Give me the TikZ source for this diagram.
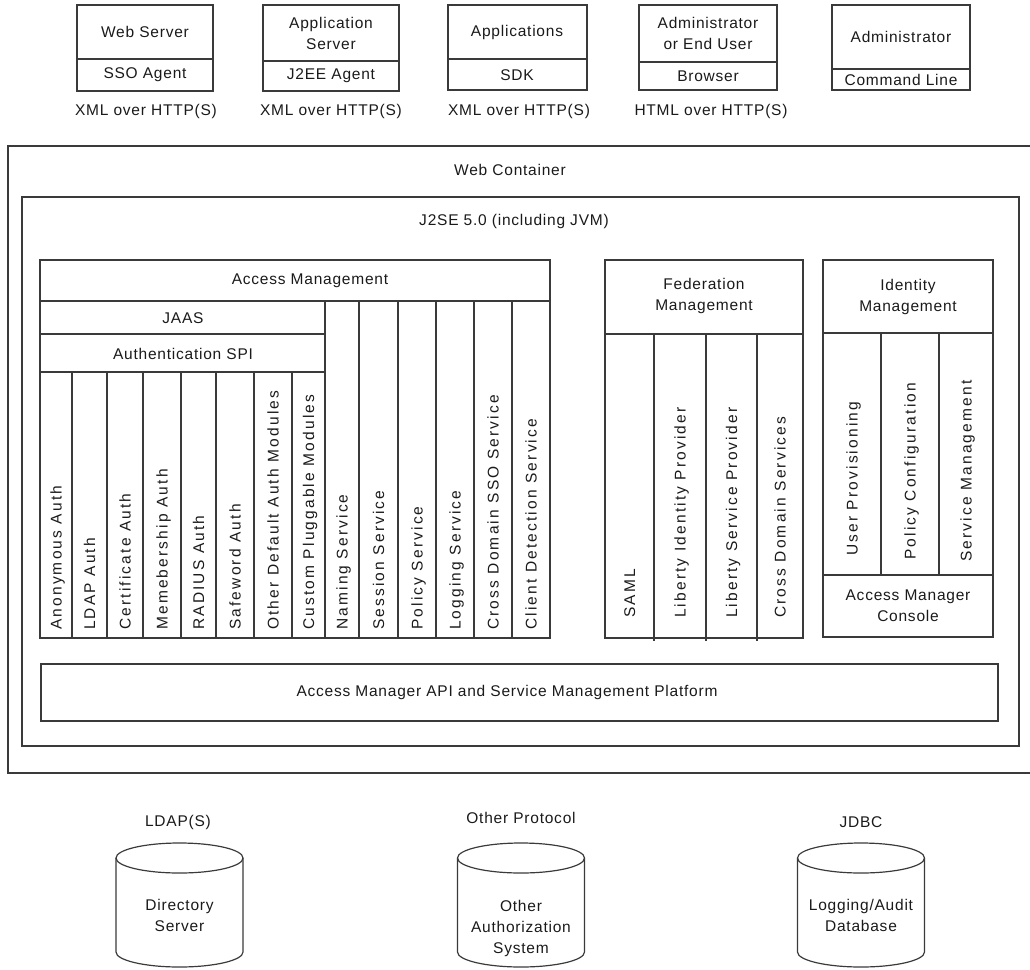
\documentclass[tikz,border=0pt]{standalone}
\usepackage{fontspec}
\newfontfamily\hfont{Liberation Sans}[LetterSpace=5]
\newfontfamily\vfont{Liberation Sans}[LetterSpace=14]
\definecolor{linec}{HTML}{3A3A3A}
\definecolor{textc}{HTML}{1A1A1A}
\begin{document}
\begin{tikzpicture}[x=1pt,y=-1pt,
  frame/.style={draw=linec, line width=1.2pt},
  lbl/.style={font=\hfont\fontsize{15.5}{21}\selectfont, text=textc, align=center, inner sep=0pt},
  vlbl/.style={font=\vfont\fontsize{15.5}{21}\selectfont, text=textc, inner sep=0pt,
               rotate=90, anchor=west, text height=11pt, text depth=0pt}]
\useasboundingbox (0,0) rectangle (1030,969);

% ---------- clients ----------
\draw[frame] (77,5) rectangle (213,91);  \draw[frame] (77,59) -- (213,59);
\node[lbl] (websrv) at (145,32) {Web Server};
\node[lbl] (ssoag) at (145,75) {SSO Agent};

\draw[frame] (263,5) rectangle (399,91); \draw[frame] (263,61) -- (399,61);
\node[lbl] (appsrv) at (331,33) {Application\\Server};
\node[lbl] (j2eeag) at (331,76) {J2EE Agent};

\draw[frame] (448,5) rectangle (587,90); \draw[frame] (448,59) -- (587,59);
\node[lbl] (apps) at (517,32) {Applications};
\node[lbl] (sdk) at (517,75) {SDK};

\draw[frame] (639,5) rectangle (777,90); \draw[frame] (639,62) -- (777,62);
\node[lbl] (enduser) at (708,33) {Administrator\\or End User};
\node[lbl] (browser) at (708,76) {Browser};

\draw[frame] (832,5) rectangle (970,90); \draw[frame] (832,69) -- (970,69);
\node[lbl] (admin) at (901,37) {Administrator};
\node[lbl] (cmdline) at (901,80) {Command Line};

\node[lbl] (proto1) at (146,111) {XML over HTTP(S)};
\node[lbl] (proto2) at (331,111) {XML over HTTP(S)};
\node[lbl] (proto3) at (519,111) {XML over HTTP(S)};
\node[lbl] (proto4) at (711,111) {HTML over HTTP(S)};

% ---------- web container (runs off the right edge) ----------
\draw[frame] (1032,146) -- (8,146) -- (8,773) -- (1032,773);
\node[lbl] (webcont) at (510,170) {Web Container};

% ---------- J2SE ----------
\draw[frame] (22,197) rectangle (1019,746);
\node[lbl] (j2se) at (514,221) {J2SE 5.0 (including JVM)};

% ---------- access management ----------
\draw[frame] (40,260) rectangle (550,638);
\draw[frame] (40,301) -- (550,301);
\node[lbl] (accmgmt) at (310,281) {Access Management};
\draw[frame] (40,334) -- (325,334);
\draw[frame] (40,372) -- (325,372);
\node[lbl] (jaas) at (183,318) {JAAS};
\node[lbl] (authspi) at (183,354) {Authentication SPI};
\foreach \cx in {72,107,143,181,216,254,292}
  \draw[frame] (\cx,372) -- (\cx,638);
\foreach \cx in {325,359,398,436,474,512}
  \draw[frame] (\cx,301) -- (\cx,638);

\node[vlbl] (anon)   at (56,630)    {Anonymous Auth};
\node[vlbl] (ldapa)  at (89.5,630)  {LDAP Auth};
\node[vlbl] (cert)   at (125,630)   {Certificate Auth};
\node[vlbl] (memb)   at (162,630)   {Memebership Auth};
\node[vlbl] (radius) at (198.5,630) {RADIUS Auth};
\node[vlbl] (safe)   at (235,630)   {Safeword Auth};
\node[vlbl] (otherd) at (273,630)   {Other Default Auth Modules};
\node[vlbl] (custom) at (308.5,630) {Custom Pluggable Modules};
\node[vlbl] (naming) at (342,630)   {Naming Service};
\node[vlbl] (sess)   at (378.5,630) {Session Service};
\node[vlbl] (policy) at (417,630)   {Policy Service};
\node[vlbl] (logsv)  at (455,630)   {Logging Service};
\node[vlbl] (cdsso)  at (493,630)   {Cross Domain SSO Service};
\node[vlbl] (client) at (531,630)   {Client Detection Service};

% ---------- federation management ----------
\draw[frame] (605,260) rectangle (803,638);
\draw[frame] (605,334) -- (803,334);
\node[lbl] (fedmgmt) at (704,296) {Federation\\Management};
\foreach \cx in {654,706,757}
  \draw[frame] (\cx,334) -- (\cx,641);
\node[vlbl] (saml)  at (629.5,618) {SAML};
\node[vlbl] (libid) at (680,618)   {Liberty Identity Provider};
\node[vlbl] (libsp) at (731.5,618) {Liberty Service Provider};
\node[vlbl] (cds)   at (780,618)   {Cross Domain Services};

% ---------- identity management ----------
\draw[frame] (823,260) rectangle (993,637);
\draw[frame] (823,333) -- (993,333);
\draw[frame] (823,575) -- (993,575);
\node[lbl] (idmgmt) at (908,297) {Identity\\Management};
\foreach \cx in {881,939}
  \draw[frame] (\cx,333) -- (\cx,575);
\node[vlbl] (userprov) at (852,556) {User Provisioning};
\node[vlbl] (polconf)  at (910,560) {Policy Configuration};
\node[vlbl] (svcmgmt)  at (966,562) {Service Management};
\node[lbl] (console) at (908,606) {Access Manager\\Console};

% ---------- platform ----------
\draw[frame] (41,664) rectangle (998,721);
\node[lbl] (platform) at (507,692) {Access Manager API and Service Management Platform};

% ---------- data stores ----------
\foreach \cx/\nm in {179.5/ds, 521/az, 861/db}{
  \draw[frame] (\cx-63.5,858) -- (\cx-63.5,952)
     arc[start angle=180, end angle=0, x radius=63.5, y radius=15] -- (\cx+63.5,858);
  \draw[frame] (\cx,858) ellipse[x radius=63.5, y radius=15];
}
\node[lbl] (ldaps) at (178,822) {LDAP(S)};
\node[lbl] (othp)  at (521,818) {Other Protocol};
\node[lbl] (jdbc)  at (861,822) {JDBC};
\node[lbl] (dirsrv) at (179.5,915) {Directory\\Server};
\node[lbl] (othaz)  at (521,928) {Other\\Authorization\\System};
\node[lbl] (logdb)  at (861,915) {Logging/Audit\\Database};
\end{tikzpicture}
\end{document}
